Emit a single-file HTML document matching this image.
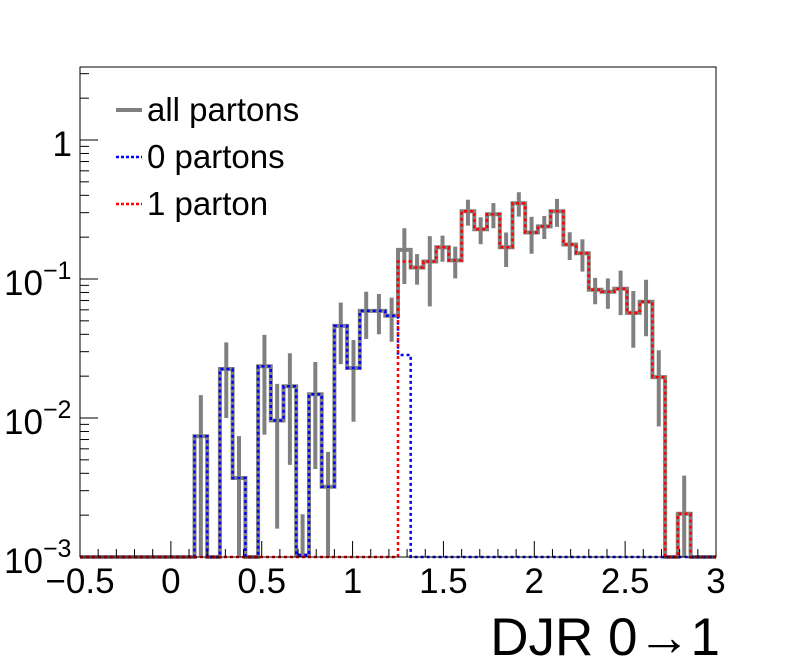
<!DOCTYPE html>
<html><head><meta charset="utf-8"><style>
html,body{margin:0;padding:0;background:#fff;}
svg{display:block;font-family:"Liberation Sans",sans-serif;}
</style></head><body>
<svg id="chart" width="796" height="672" viewBox="0 0 796 672" xmlns="http://www.w3.org/2000/svg">
<rect x="0" y="0" width="796" height="672" fill="#fff"/>
<g id="plot"></g>
<rect x="80" y="67" width="636" height="490" fill="none" stroke="#000" stroke-width="1"/>
<g id="axes"></g>
<text x="720" y="655" font-size="53" text-anchor="end">DJR 0→1</text>
<g>
<line x1="116" y1="110" x2="142" y2="110" stroke="#808080" stroke-width="4"/>
<text x="147" y="121" font-size="33">all partons</text>
<line x1="116" y1="157" x2="142" y2="157" stroke="#0000ff" stroke-width="2.5" stroke-dasharray="3,2"/>
<text x="147" y="168" font-size="33">0 partons</text>
<line x1="116" y1="204" x2="142" y2="204" stroke="#ff0000" stroke-width="2.5" stroke-dasharray="3,2"/>
<text x="147" y="215" font-size="33">1 parton</text>
</g>
</svg>
<script>
// 50 bins, -0.5 .. 3.0, width 0.07
const xMin = -0.5, xMax = 3.0, nBins = 50;
const zeroPartons = [0,0,0,0,0,0,0,0,0,0.0074, 0,0.0225,0.0037,0,0.0236,0.0096,0.0169,0.00103,0.0148,0.0032,
 0.046,0.0229,0.059,0.059,0.0544,0.0284,0,0,0,0, 0,0,0,0,0,0,0,0,0,0, 0,0,0,0,0,0,0,0,0,0];
const onePartonVals = [0,0,0,0,0,0,0,0,0,0, 0,0,0,0,0,0,0,0,0,0, 0,0,0,0,0,0.1336,0.121,0.1336,0.169,0.136,
 0.307,0.228,0.292,0.169,0.351,0.216,0.239,0.307,0.177,0.153, 0.0838,0.081,0.085,0.057,0.0687,0.0197,0,0.00205,0,0];
const allErrors = [0,0,0,0,0,0,0,0,0,0.0072, 0,0.0125,0.0037,0,0.016,0.008,0.0123,0.001,0.0105,0.0025,
 0.0216,0.0135,0.022,0.019,0.019,0.07,0.03,0.07,0.036,0.035, 0.065,0.05,0.06,0.047,0.07,0.064,0.045,0.07,0.04,0.04,
 0.018,0.02,0.03,0.025,0.03,0.011,0,0.0018,0,0];
const xTicks = [-0.5,0,0.5,1,1.5,2,2.5,3];
const xTickLabels = ["\u22120.5","0","0.5","1","1.5","2","2.5","3"];
const yDecades = [-3,-2,-1,0];

const L=80,R=716,T=67,B=557;
const yLogMin=-3, pxPerDec=139;
const X = v => L + (v-xMin)/(xMax-xMin)*(R-L);
const Y = v => { if(v<=0) return B; const y = B-(Math.log10(v)-yLogMin)*pxPerDec; return Math.min(B,Math.max(T,y)); };
const bw = (xMax-xMin)/nBins;
const NS="http://www.w3.org/2000/svg";
const plot=document.getElementById('plot'), axes=document.getElementById('axes');
function mk(tag,attrs,parent){const e=document.createElementNS(NS,tag);for(const k in attrs)e.setAttribute(k,attrs[k]);parent.appendChild(e);return e;}
function stepPath(vals){let d='';for(let i=0;i<nBins;i++){const x0=X(xMin+i*bw),x1=X(xMin+(i+1)*bw),y=Y(vals[i]);d+=(i===0?'M':'L')+x0.toFixed(1)+','+y.toFixed(1)+'L'+x1.toFixed(1)+','+y.toFixed(1);}return d;}
const total = zeroPartons.map((v,i)=>v+onePartonVals[i]);

const gAll = mk('g',{},plot);


const pAll = mk('path',{d:stepPath(total),fill:'none',stroke:'#808080','stroke-width':4},gAll);


for(let i=0;i<nBins;i++){
  if(total[i]<=0) continue;
  const xc=X(xMin+(i+0.5)*bw);
  const e=mk('line',{x1:xc,x2:xc,y1:Y(total[i]+allErrors[i]),y2:Y(total[i]-allErrors[i]),stroke:'#808080','stroke-width':4},gAll);
  
  
}
const pZero = mk('path',{d:stepPath(zeroPartons),fill:'none',stroke:'#0000ff','stroke-width':2.5,'stroke-dasharray':'3,3'},plot);


const pOne = mk('path',{d:stepPath(onePartonVals),fill:'none',stroke:'#ff0000','stroke-width':2.5,'stroke-dasharray':'3,3'},plot);



// x ticks
for(let k=0;k<=35;k++){
  const v=xMin+k*0.1, x=X(v), major=(k%5===0);
  const t=mk('line',{x1:x,x2:x,y1:B,y2:B-(major?16:8),stroke:'#000','stroke-width':1},axes);
  
  
}
xTicks.forEach((v,i)=>{
  const t=mk('text',{x:X(v),y:593,'font-size':35,'text-anchor':'middle'},axes);
  t.textContent=xTickLabels[i];
  
  
});
// y ticks
for(let d=-3;d<=0;d++){
  for(let m=1;m<=9;m++){
    const v=m*Math.pow(10,d), y=Y(v);
    if(y<T) continue;
    const t=mk('line',{x1:L,x2:L+(m===1?18:9),y1:y,y2:y,stroke:'#000','stroke-width':1},axes);
    
    
  }
}
yDecades.forEach(d=>{
  const y=Y(Math.pow(10,d));
  const t=mk('text',{x:72,y:y+16,'font-size':35,'text-anchor':'end'},axes);
  
  
  if(d===0){t.textContent='1';}
  else{
    t.setAttribute('x',4);t.setAttribute('text-anchor','start');
    t.textContent='10';
    const s=mk('tspan',{dy:-16,'font-size':25},t);
    s.textContent='\u2212'+(-d);
  }
});
</script>
</body></html>
